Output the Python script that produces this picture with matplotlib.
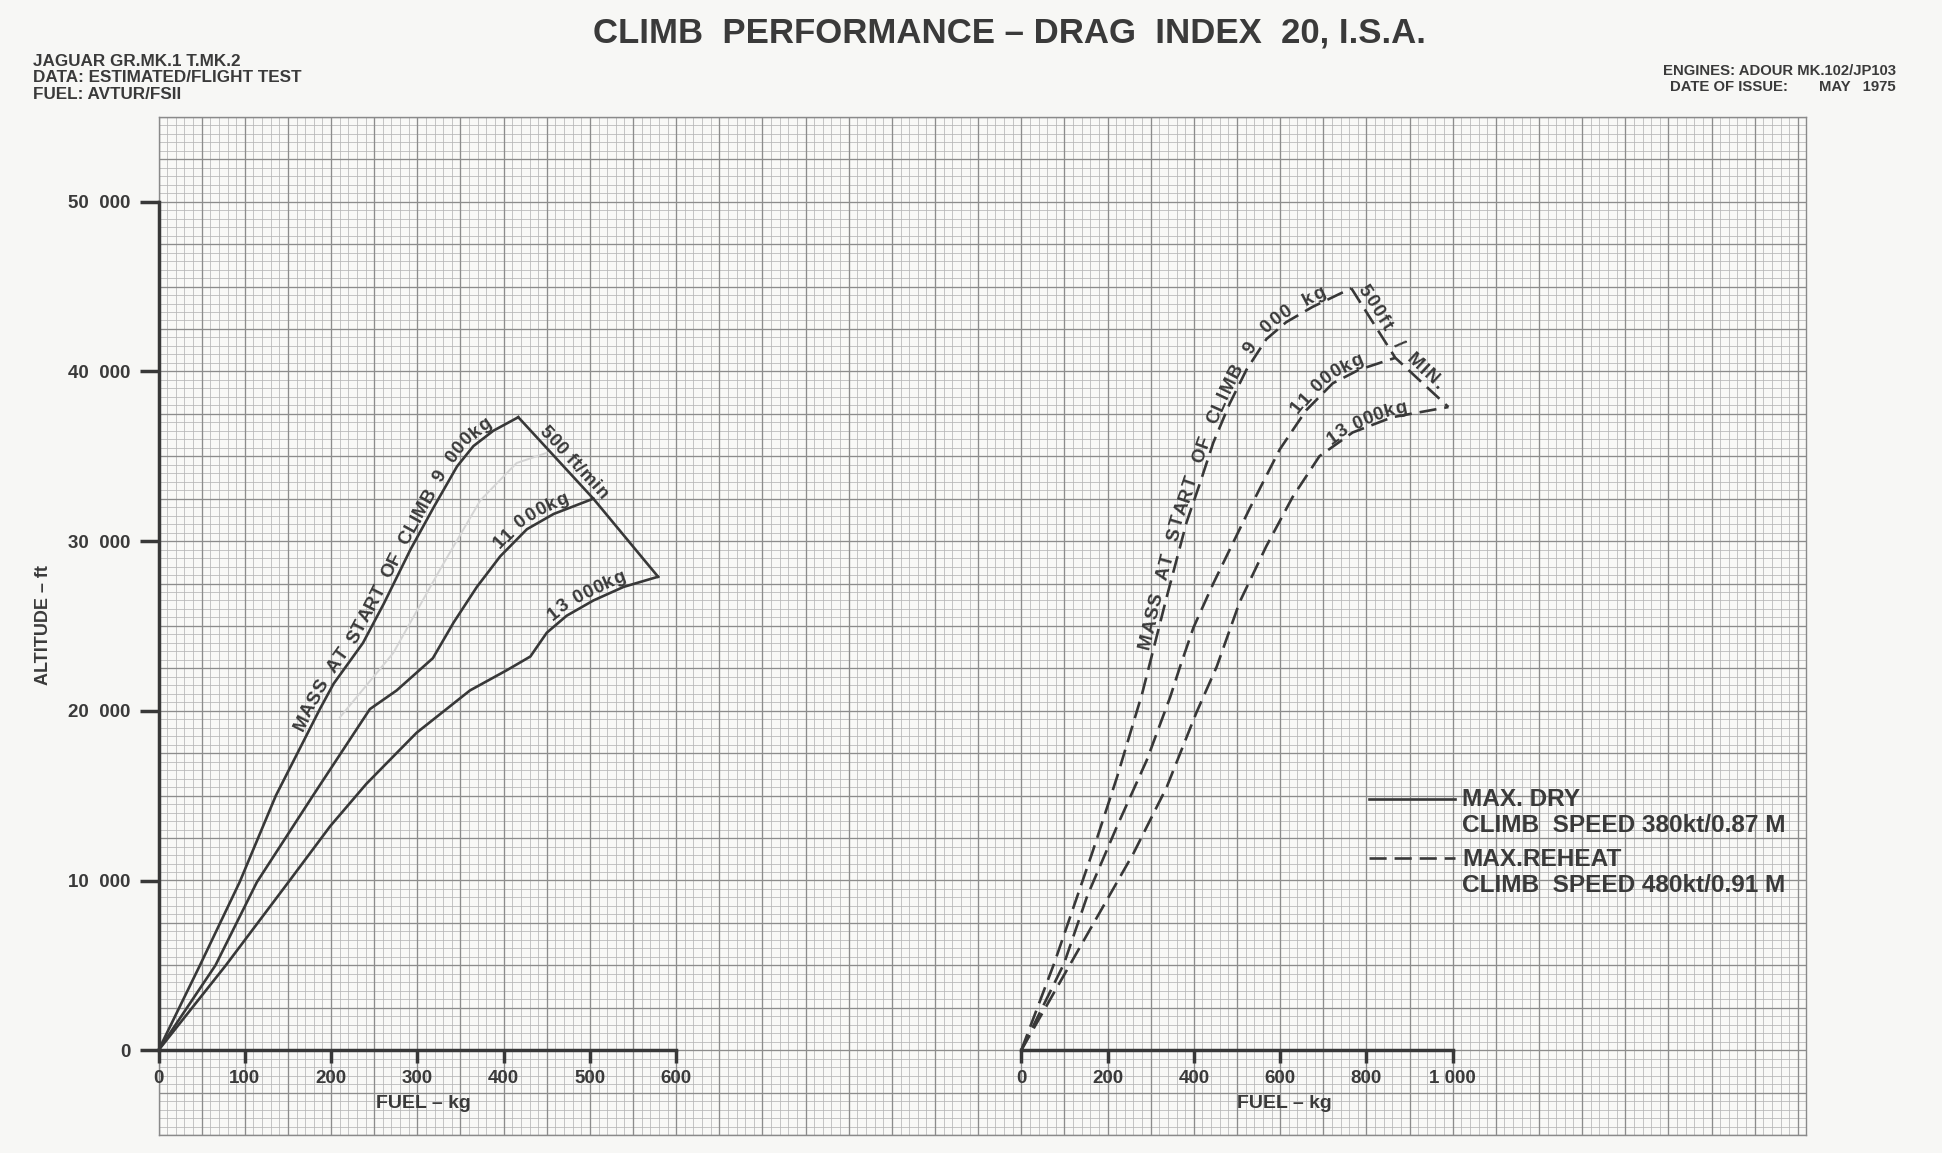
import numpy as np
import matplotlib
matplotlib.use('Agg')
import matplotlib.pyplot as plt
from matplotlib.font_manager import FontProperties
from matplotlib.collections import LineCollection
from matplotlib.lines import Line2D

# ---------------- data (fuel kg, altitude ft) ----------------
dry_9000_fuel = [0, 48, 94, 136, 187, 203, 237, 261, 292, 319, 346, 365, 388, 417]
dry_9000_alt = [0, 5000, 9900, 15000, 20100, 21600, 24000, 26300, 29500, 32000, 34400, 35600, 36500, 37300]
dry_11000_fuel = [0, 66, 114, 179, 245, 276, 318, 342, 369, 396, 427, 458, 504]
dry_11000_alt = [0, 5000, 9900, 15000, 20100, 21200, 23100, 25200, 27300, 29100, 30700, 31600, 32500]
dry_13000_fuel = [0, 78, 152, 199, 241, 299, 361, 404, 431, 450, 473, 504, 539, 579]
dry_13000_alt = [0, 5000, 10000, 13200, 15700, 18700, 21200, 22400, 23200, 24600, 25600, 26500, 27300, 27900]
dry_500fpm_fuel = [417, 504, 579]
dry_500fpm_alt = [37300, 32500, 27900]
ghost_fuel = [210, 272, 326, 373, 415, 450]
ghost_alt = [19600, 23400, 28300, 32400, 34600, 35200]

reheat_9000_fuel = [0, 76, 164, 222, 280, 337, 383, 414, 445, 483, 522, 568, 614, 675, 765]
reheat_9000_alt = [0, 5100, 11600, 16100, 21000, 26700, 31100, 33400, 35800, 38100, 40100, 41900, 42900, 43800, 44900]
reheat_11000_fuel = [0, 99, 153, 222, 291, 345, 368, 399, 445, 529, 599, 660, 722, 783, 867]
reheat_11000_alt = [0, 5100, 9100, 13200, 17100, 20800, 22600, 24900, 27500, 31900, 35400, 37700, 39300, 40100, 40800]
reheat_13000_fuel = [0, 76, 168, 260, 337, 406, 453, 506, 568, 629, 691, 768, 860, 990]
reheat_13000_alt = [0, 3400, 7500, 11600, 15500, 19900, 22600, 26400, 29700, 32600, 35000, 36400, 37300, 37900]
reheat_500fpm_fuel = [765, 867, 990]
reheat_500fpm_alt = [44900, 40800, 37900]

alt_ticks = [0, 10000, 20000, 30000, 40000, 50000]
alt_tick_labels = ['0', '10  000', '20  000', '30  000', '40  000', '50  000']
dry_fuel_ticks = [0, 100, 200, 300, 400, 500, 600]
dry_fuel_labels = ['0', '100', '200', '300', '400', '500', '600']
reheat_fuel_ticks = [0, 200, 400, 600, 800, 1000]
reheat_fuel_labels = ['0', '200', '400', '600', '800', '1 000']

# ---------------- layout ----------------
W, H, DPI = 1942, 1153, 100
FAMILY = ['Liberation Sans', 'DejaVu Sans']
plt.rcParams['font.family'] = FAMILY
plt.rcParams['font.weight'] = 'bold'
INK = '#383838'
TXT = '#3a3a3a'

fig = plt.figure(figsize=(W / DPI, H / DPI), dpi=DPI, facecolor='#f7f7f5')

X0L = 158.5      # pixel of 0 kg on left chart
CX = 8.628       # pixel per grid cell (x)
Y0 = 1050.2      # pixel of 0 ft
CY = 8.485       # pixel per grid cell (y)


def fx(px):
    return px / W


def fy(py):
    return 1 - py / H


# graph-paper background
bg = fig.add_axes([fx(X0L), fy(Y0 + 10 * CY), 191 * CX / W, 120 * CY / H])
bg.set_xlim(0, 191)
bg.set_ylim(-10, 110)
bg.set_facecolor('#f9f9f7')
bg.set_xticks([])
bg.set_yticks([])
for sp in bg.spines.values():
    sp.set_color('#8a8a8a')
    sp.set_linewidth(1.0)
segs_min, segs_mid = [], []
for i in range(0, 192):
    seg = [(i, -10), (i, 110)]
    (segs_mid if i % 5 == 0 else segs_min).append(seg)
for j in range(-10, 111):
    seg = [(0, j), (191, j)]
    (segs_mid if j % 5 == 0 else segs_min).append(seg)
bg.add_collection(LineCollection(segs_min, colors='#b6b6b6', linewidths=0.55))
bg.add_collection(LineCollection(segs_mid, colors='#8c8c8c', linewidths=0.95))


def make_axes(left_px, ncells, xmax):
    ax = fig.add_axes([fx(left_px), fy(Y0), ncells * CX / W, 110 * CY / H])
    ax.set_xlim(0, xmax)
    ax.set_ylim(0, 55000)
    ax.patch.set_alpha(0)
    ax.spines['top'].set_visible(False)
    ax.spines['right'].set_visible(False)
    for sp in ('left', 'bottom'):
        ax.spines[sp].set_linewidth(2.5)
        ax.spines[sp].set_color(INK)
    ax.spines['bottom'].set_bounds(0, xmax)
    ax.tick_params(axis='x', direction='out', length=9, width=2.5, color=INK,
                   labelsize=13.5, labelcolor=TXT, pad=5)
    return ax


ax1 = make_axes(X0L, 60, 600)
ax1.spines['left'].set_bounds(0, 50000)
ax1.set_yticks(alt_ticks)
ax1.set_yticklabels(alt_tick_labels)
ax1.tick_params(axis='y', direction='out', length=14, width=2.5, color=INK,
                labelsize=13.5, labelcolor=TXT, pad=6)
ax1.set_xticks(dry_fuel_ticks)
ax1.set_xticklabels(dry_fuel_labels)

ax2 = make_axes(X0L + 100 * CX, 50, 1000)
ax2.spines['left'].set_visible(False)
ax2.set_yticks([])
ax2.set_xticks(reheat_fuel_ticks)
ax2.set_xticklabels(reheat_fuel_labels)

LW = 1.9
ax1.plot(ghost_fuel, ghost_alt, color='#d4d4d4', lw=1.4, solid_capstyle='round')
for xs, ys in [(dry_9000_fuel, dry_9000_alt), (dry_11000_fuel, dry_11000_alt),
               (dry_13000_fuel, dry_13000_alt), (dry_500fpm_fuel, dry_500fpm_alt)]:
    ax1.plot(xs, ys, color=INK, lw=LW, solid_joinstyle='miter', clip_on=False)

DASH = (0, (6.5, 3))
for xs, ys in [(reheat_9000_fuel, reheat_9000_alt), (reheat_11000_fuel, reheat_11000_alt),
               (reheat_13000_fuel, reheat_13000_alt), (reheat_500fpm_fuel, reheat_500fpm_alt)]:
    ax2.plot(xs, ys, color=INK, lw=LW, linestyle=DASH, clip_on=False)

# ---------------- text along curves ----------------
renderer = fig.canvas.get_renderer()
inv = fig.transFigure.inverted()


def text_along(ax, xs, ys, text, start_x, size, offset=5.0, space_mult=2.0, track=0.6):
    prop = FontProperties(family=FAMILY, weight='bold', size=size)

    def w(s):
        return renderer.get_text_width_height_descent(s, prop, ismath=False)[0]

    space_w = (w('M M') - w('MM')) * space_mult
    pts = ax.transData.transform(np.column_stack([xs, ys]))
    d = np.diff(pts, axis=0)
    s = np.concatenate([[0.0], np.cumsum(np.hypot(d[:, 0], d[:, 1]))])
    cur = np.interp(start_x, xs, s)

    def point(sv):
        return np.array([np.interp(sv, s, pts[:, 0]), np.interp(sv, s, pts[:, 1])])

    for ch in text:
        cw = space_w if ch == ' ' else w(ch)
        if ch != ' ':
            c = cur + cw / 2
            t = point(c + 14) - point(c - 14)
            t = t / np.hypot(*t)
            nrm = np.array([-t[1], t[0]])
            p = point(c) + nrm * offset
            ang = np.degrees(np.arctan2(t[1], t[0]))
            px, py = inv.transform(p)
            fig.text(px, py, ch, fontproperties=prop, color=TXT, rotation=ang,
                     rotation_mode='anchor', ha='center', va='baseline')
        cur += cw + track


text_along(ax1, dry_9000_fuel, dry_9000_alt, 'MASS AT START OF CLIMB 9 000kg', 172, 13.5,
           offset=5, space_mult=1.9, track=0.4)
text_along(ax1, dry_11000_fuel, dry_11000_alt, '11 000kg', 400, 13.5, offset=5, space_mult=1.0)
text_along(ax1, dry_13000_fuel, dry_13000_alt, '13 000kg', 461, 13.5, offset=5, space_mult=1.0)
text_along(ax1, dry_500fpm_fuel, dry_500fpm_alt, '500 ft/min', 436, 13.5, offset=5, space_mult=1.0)

text_along(ax2, reheat_9000_fuel, reheat_9000_alt, 'MASS AT START OF CLIMB 9 000 kg', 305, 13.5,
           offset=4, space_mult=2.4, track=1.0)
text_along(ax2, reheat_11000_fuel, reheat_11000_alt, '11 000kg', 650, 13.5, offset=4, space_mult=1.0)
text_along(ax2, reheat_13000_fuel, reheat_13000_alt, '13 000kg', 722, 13.5, offset=2, space_mult=1.0)
text_along(ax2, reheat_500fpm_fuel, reheat_500fpm_alt, '500ft / MIN.', 770, 13.5, offset=5,
           space_mult=2.5, track=1.5)

# ---------------- titles and notes ----------------
fig.text(fx(1009), fy(33), 'CLIMB  PERFORMANCE – DRAG  INDEX  20, I.S.A.', fontsize=25,
         color=TXT, ha='center', va='center')
for k, line in enumerate(['JAGUAR GR.MK.1 T.MK.2', 'DATA: ESTIMATED/FLIGHT TEST', 'FUEL: AVTUR/FSII']):
    fig.text(fx(33), fy(61 + 16.7 * k), line, fontsize=12.3, color=TXT, ha='left', va='center')
fig.text(fx(1896), fy(70.6), 'ENGINES: ADOUR MK.102/JP103', fontsize=10.7, color=TXT,
         ha='right', va='center')
fig.text(fx(1669.5), fy(86.7), 'DATE OF ISSUE:', fontsize=10.7, color=TXT, ha='left', va='center')
fig.text(fx(1896), fy(86.7), 'MAY   1975', fontsize=10.7, color=TXT, ha='right', va='center')

fig.text(fx(43), fy(625), 'ALTITUDE – ft', fontsize=13, color=TXT, rotation=90,
         ha='center', va='center')
fig.text(fx(423.6), fy(1104), 'FUEL – kg', fontsize=14, color=TXT, ha='center', va='center')
fig.text(fx(1284.3), fy(1104), 'FUEL – kg', fontsize=14, color=TXT, ha='center', va='center')

# ---------------- legend ----------------
fig.add_artist(Line2D([fx(1368.5), fx(1455)], [fy(798.8), fy(798.8)], color=INK, lw=LW))
fig.add_artist(Line2D([fx(1368.5), fx(1455)], [fy(858.3), fy(858.3)], color=INK, lw=LW,
                      linestyle=DASH))
leg_lines = [('MAX. DRY', 799.5), ('CLIMB  SPEED 380kt/0.87 M', 825.5),
             ('MAX.REHEAT', 859), ('CLIMB  SPEED 480kt/0.91 M', 885)]
for txt, ypx in leg_lines:
    fig.text(fx(1462), fy(ypx), txt, fontsize=17.6, color=TXT, ha='left', va='center')

fig.savefig('out.png', dpi=DPI, facecolor=fig.get_facecolor())
